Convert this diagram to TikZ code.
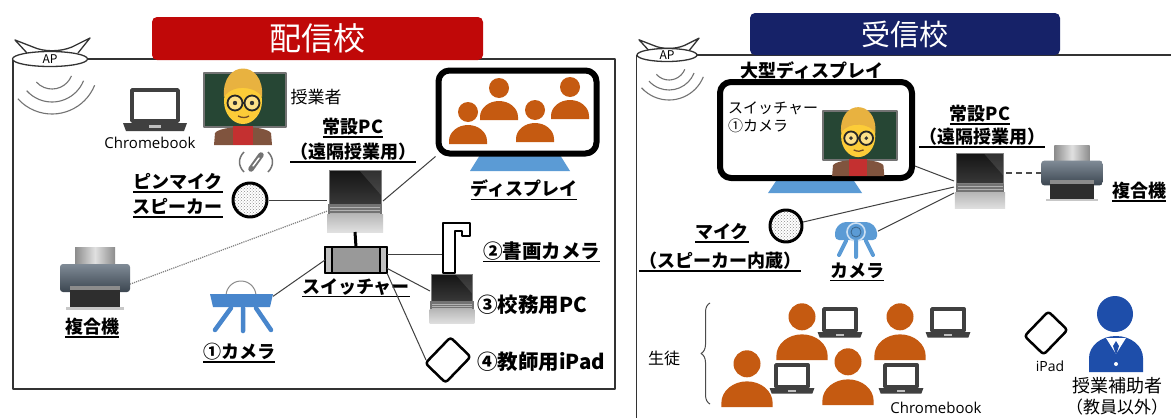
\documentclass[tikz,border=0pt]{standalone}
\usepackage{fontspec}
\newfontfamily\jp{Noto Sans CJK JP}
\newfontfamily\lat{Open Sans}
\usetikzlibrary{positioning,patterns,shapes.geometric,decorations.pathreplacing}

\definecolor{sendred}{RGB}{192,8,8}
\definecolor{recvnavy}{RGB}{22,34,104}
\definecolor{kidorange}{RGB}{197,90,17}
\definecolor{standblue}{RGB}{91,155,213}
\definecolor{camblue}{RGB}{72,134,204}
\definecolor{helperblue}{RGB}{30,78,170}
\definecolor{icongray}{RGB}{64,64,64}
\definecolor{printerbody}{RGB}{85,100,115}
\definecolor{boardgreen}{RGB}{38,70,52}
\definecolor{hairblond}{RGB}{232,178,64}
\definecolor{skin}{RGB}{252,204,56}
\definecolor{jacket}{RGB}{128,84,62}
\definecolor{shirtred}{RGB}{196,48,48}

% underline a little heavier than \underline
\newcommand\ulab[1]{\setbox0=\hbox{#1}\rlap{\rule[-4pt]{\wd0}{1.3pt}}\box0}

\tikzset{
  devbox/.style={inner sep=0, outer sep=0},
  lbl/.style={font=\jp\bfseries\fontsize{18}{20}\selectfont, inner sep=1},
  biglbl/.style={font=\jp\bfseries\fontsize{20.5}{22}\selectfont, inner sep=1},
  txt/.style={font=\jp\fontsize{17}{20}\selectfont, inner sep=1},
  lat/.style={font=\lat\fontsize{15}{17}\selectfont, inner sep=1},
  wire/.style={draw=black!75, line width=1},
  panel/.style={draw=black!80, line width=1.3},
  monitor/.style={draw, line width=6, rounded corners=11, inner sep=0},
  spk/.style={circle, draw, line width=3, pattern=crosshatch dots, pattern color=black!45, inner sep=0},
  titlebar/.style={rounded corners=5, text=white, inner sep=0},
  wave/.style={draw=black!55, line width=1.1},
  apnode/.style={ellipse, draw=black!80, line width=1.3, fill=white, inner sep=0,
    font=\jp\fontsize{12}{12}\selectfont},
  % notebook PC (photo style)
  notebook/.pic={
    \shade[top color=black!92, bottom color=black!78] (-26,-31) rectangle (26,3);
    \fill[white, opacity=0.12] (4,-31) -- (26,-31) -- (26,-6) -- cycle;
    \draw[black!50, line width=0.8] (-26,-31) rectangle (26,3);
    \fill[black!55] (-27,3) rectangle (27,13);
    \draw[black!30, line width=0.6] (-25,6) -- (25,6) (-25,9) -- (25,9) (-25,12) -- (25,12);
    \shade[top color=black!28, bottom color=black!12] (-28,13) rectangle (28,31);
  },
  % line icon of a Chromebook
  chromebook/.pic={
    \draw[icongray, line width=3.5] (-23,-20) rectangle (23,11);
    \fill[icongray] (-32,13) -- (32,13) -- (29,21) -- (-29,21) -- cycle;
    \fill[black!25] (-6,15) rectangle (6,18);
  },
  printer/.pic={
    \shade[left color=black!45, right color=black!45, middle color=black!12] (-20,-31) rectangle (20,-12);
    \shade[top color=printerbody!75!white, bottom color=printerbody!70!black, rounded corners=3] (-35,-14) rectangle (35,14);
    \fill[black!82] (-25,8) rectangle (25,30);
    \fill[black!45] (-25,8) rectangle (25,12);
    \fill[black!22] (-29,29) rectangle (29,32);
  },
  doccam/.pic={
    \draw[line width=1.5, fill=white] (-13,25) -- (-13,-25) -- (14,-25) -- (14,-12) -- (6,-12)
      -- (6,-17) -- (-1,-17) -- (-1,25) -- cycle;
  },
  tripodcam/.pic={
    \draw[black!45, line width=1] (-15,-12) arc[start angle=180, end angle=360, radius=15];
    \fill[camblue] (-31,-14) -- (32,-14) -- (29,-1) -- (-28,-1) -- cycle;
    \draw[camblue, line width=4.5, line cap=round] (-10,0) -- (-26,22) (2,0) -- (2,23) (15,0) -- (30,22);
  },
  domecam/.pic={
    \fill[standblue, rounded corners=4] (-21,3) -- (-21,-8) -- (-14,-15) -- (14,-15) -- (21,-8) -- (21,3) -- cycle;
    \draw[white!70!standblue, line width=1.6] (0,-5) circle (9);
    \draw[standblue!65!black, line width=0.8] (0,-5) circle (5);
    \draw[standblue, line width=4, line cap=round] (-10,4) -- (-17,18) (0,4) -- (0,20) (10,4) -- (17,18);
  },
  tablet/.pic={
    \draw[line width=2.5, rounded corners=3, fill=white, rotate=46] (-18,-14) rectangle (18,14);
  },
  pinmic/.pic={
    \draw[black!55, line width=1.5] (-12,-10) .. controls (-18,-4) and (-18,4) .. (-12,10)
      (12,-10) .. controls (18,-4) and (18,4) .. (12,10);
    \draw[black!55, line width=5.5, line cap=round] (-5,7) -- (5,-7);
    \draw[white, line width=1.4, line cap=round] (-3,4) -- (3,-4);
  },
  kid/.pic={
    \fill[kidorange] (0,-12) circle (10);
    \fill[kidorange] (-19,20) -- (-19,17) arc[start angle=180, end angle=360, x radius=19, y radius=16] -- (19,20) -- cycle;
  },
  assistant/.pic={
    \fill[helperblue] (-1,-20) circle (18);
    \fill[helperblue] (-27,38) -- (-27,24) arc[start angle=180, end angle=360, x radius=27, y radius=22] -- (27,38) -- cycle;
    \fill[white] (-10,4) -- (0,20) -- (10,4) -- cycle;
    \fill[helperblue] (0,7) -- (3,12) -- (0,21) -- (-3,12) -- cycle;
    \fill[white] (0,30) circle (2);
  },
  teacher/.pic={
    \fill[boardgreen] (-41,-32) rectangle (41,22);
    \draw[black!55, line width=1.5] (-41,-32) rectangle (41,22);
    \fill[jacket] (-31,40) -- (-30,28) .. controls (-24,20) and (20,20) .. (26,28) -- (27,40) -- cycle;
    \fill[shirtred] (-12,21) rectangle (8,40);
    \fill[skin] (-2,-4) ellipse [x radius=19, y radius=23];
    \fill[hairblond] (-21,-8) .. controls (-24,-46) and (20,-46) .. (17,-8) .. controls (12,-18) and (-12,-22) .. cycle;
    \draw[black!85, line width=1.8, fill=white!40!skin] (-10,-2) circle (7.5) (7,-2) circle (7.5);
    \draw[black!85, line width=1.8] (-2.5,-2) -- (-0.5,-2);
    \fill[black!80] (-10,-2) circle (2.2) (7,-2) circle (2.2);
    \draw[brown!60!black, line width=1.3] (-7,11) .. controls (-3,13) and (1,13) .. (4,11);
  },
}

\begin{document}
\begin{tikzpicture}[x=1pt, y=-1pt, line join=round]
\useasboundingbox (0,0) rectangle (1171,418);
\fill[white] (0,0) rectangle (1171,418);

%%%%%%%%%% 配信校 %%%%%%%%%%
\coordinate (apAc) at (50,59);
\draw[panel] (apAc) -- (615,59) -- (615,389) -- (13,389) -- (13,59);
\draw[panel, fill=white, shift={(apAc)}] (-23,-6) -- (-35,-19) -- (-17,-12) .. controls (-6,-7) and (10,-7) .. (22,-12) -- (40,-21) -- (28,-6);
\node[apnode, minimum width=75, minimum height=15] (apA) at (apAc) {AP};
\foreach \r in {21,34,46}
  \draw[wave] ([shift={(2,9)}]apA.center) ++(22:\r) arc[start angle=22, end angle=138, radius=\r];
\node[titlebar, fill=sendred, minimum width=331, minimum height=43,
  font=\jp\fontsize{32}{34}\selectfont] (titleA) at (317.5,38.5) {配信校};

% 授業者 と Chromebook
\node[devbox, minimum width=64, minimum height=44] (cbA) at (155,110) {};
\pic at (cbA) {chromebook};
\node[lat] (cbAtxt) at (150,143) {Chromebook};
\node[devbox, minimum width=83, minimum height=80] (tchA) at (245,105) {};
\pic at (tchA) {teacher};
\node[txt] (tchAtxt) at (316,97) {授業者};

% ディスプレイ
\fill[standblue] (480,155) -- (560,155) -- (570,171) -- (470,171) -- cycle;
\node[monitor, minimum width=158, minimum height=83] (dispA) at (517.5,112) {};
\foreach \px/\py in {468/124, 499/100, 535/122, 570/99}
  \pic at (\px,\py) {kid};
\node[lbl] (dispAtxt) at (524,190) {\ulab{ディスプレイ}};

% 常設PC
\node[devbox, minimum width=56, minimum height=62] (pcA) at (355,201) {};
\pic at (pcA) {notebook};
\node[lbl] (pcAname) at (353,128) {\ulab{常設PC}};
\node[lbl] (pcAuse) at (353,153) {\ulab{（遠隔授業用）}};

% ピンマイク・スピーカー
\node[devbox, minimum width=40, minimum height=22] (pinA) at (256,162) {};
\pic at (pinA) {pinmic};
\node[spk, minimum size=34] (spkA) at (250,200) {};
\node[lbl, anchor=east] (spkAtxt1) at (224,183) {\ulab{ピンマイク}};
\node[lbl, anchor=east] (spkAtxt2) at (224,208) {\ulab{スピーカー}};

% 複合機
\node[devbox, minimum width=70, minimum height=64] (prnA) at (95,278) {};
\pic at (prnA) {printer};
\node[lbl] (prnAtxt) at (92,328) {\ulab{複合機}};

% スイッチャー
\node[devbox, draw, line width=1.2, fill=black!40, minimum width=62, minimum height=26] (sw) at (356,260) {};
\draw[line width=1.2, fill=black!25] (sw.north west) rectangle ([xshift=7pt]sw.south west);
\draw[line width=1.2, fill=black!25] (sw.north east) rectangle ([xshift=-7pt]sw.south east);
\node[lbl] (swtxt) at (356,288) {\ulab{スイッチャー}};

% ①カメラ
\node[devbox, minimum width=64, minimum height=52] (camA) at (241,308) {};
\pic at (camA) {tripodcam};
\node[lbl] (camAtxt) at (239,353) {\ulab{①カメラ}};

% ②〜④
\node[devbox, minimum width=28, minimum height=51] (docA) at (456,248) {};
\pic at (docA) {doccam};
\node[biglbl, anchor=west, font=\jp\bfseries\fontsize{19.5}{21}\selectfont] (docAtxt) at (482,252) {\ulab{②書画カメラ}};
\node[devbox, minimum width=44, minimum height=44] (pcB) at (452,299) {};
\pic[scale=0.8] at (pcB) {notebook};
\node[biglbl, anchor=west] (pcBtxt) at (476,305) {③校務用PC};
\node[devbox, minimum width=44, minimum height=44] (padA) at (448,360) {};
\pic at (padA) {tablet};
\node[biglbl, anchor=west] (padAtxt) at (476,362) {④教師用iPad};

% 配線
\draw[wire] (spkA) -- (pcA.west |- spkA);
\draw[wire] (pcA.east) -- (dispA.south west);
\draw[black!50, line width=1.2, densely dotted] (pcA.200) -- (prnA.-10);
\draw[line width=3] (pcA.south) -- (sw.north);
\draw[wire] (sw.west) -- (camA.20);
\draw[wire] (sw.10) -- (sw.10 -| docA.west);
\draw[wire] (sw.-15) -- (pcB.160);
\draw[wire] (sw.south east) -- (padA.west);

%%%%%%%%%% 受信校 %%%%%%%%%%
\coordinate (apBc) at (667,55);
\draw[panel] (apBc) -- (1175,55);
\begin{scope}[shift={(apBc)}, scale=0.8]
  \draw[panel, fill=white] (-23,-6) -- (-35,-19) -- (-17,-12) .. controls (-6,-7) and (10,-7) .. (22,-12) -- (40,-21) -- (28,-6);
\end{scope}
\node[apnode, minimum width=60, minimum height=13] (apB) at (apBc) {AP};
\draw[panel] (apB.west) -- (apB.west |- 0,422);
\foreach \r in {17,27,37}
  \draw[wave] ([shift={(2,8)}]apB.center) ++(22:\r) arc[start angle=22, end angle=138, radius=\r];
\node[titlebar, fill=recvnavy, minimum width=310, minimum height=42,
  font=\jp\fontsize{29}{31}\selectfont] (titleB) at (905,34) {受信校};

% 大型ディスプレイ
\node[lbl] (dispBtxt) at (812,72) {\ulab{大型ディスプレイ}};
\fill[standblue] (778,178) -- (852,178) -- (862,193) -- (768,193) -- cycle;
\node[monitor, minimum width=192, minimum height=96] (dispB) at (816,130) {};
\pic[scale=0.9] at (860,140) {teacher};
\node[txt, font=\jp\fontsize{15}{18}\selectfont, align=left, anchor=west] (dispBcap) at (727,117) {スイッチャー\\①カメラ};

% 常設PC と 複合機
\node[devbox, minimum width=52, minimum height=52] (pcC) at (980,181) {};
\pic[scale=0.9] at (pcC) {notebook};
\node[lbl] (pcCname) at (980,115) {\ulab{常設PC}};
\node[lbl] (pcCuse) at (982,138) {\ulab{（遠隔授業用）}};
\node[devbox, minimum width=62, minimum height=58] (prnB) at (1072,173) {};
\pic[scale=0.88] at (prnB) {printer};
\node[lbl] (prnBtxt) at (1139,192) {\ulab{複合機}};

% マイク・カメラ
\node[spk, minimum size=32] (spkB) at (786,226) {};
\node[lbl] (spkBtxt1) at (722,233) {\ulab{マイク}};
\node[lbl] (spkBtxt2) at (720,262) {\ulab{（スピーカー内蔵）}};
\node[devbox, minimum width=44, minimum height=36] (camB) at (856,237) {};
\pic at (camB) {domecam};
\node[lbl] (camBtxt) at (857,272) {\ulab{カメラ}};

% 配線
\draw[wire] (dispB.-20) -- (pcC.west);
\draw[wire] (spkB) -- ([yshift=-6pt]pcC.west);
\draw[wire] (camB.15) -- ([yshift=-12pt]pcC.west);
\draw[black!70, line width=1.5, dash pattern=on 6pt off 4pt] (prnB.west -| pcC.east) -- (prnB.west);

% 生徒
\node[txt, font=\jp\fontsize{16}{18}\selectfont] (kidtxt) at (664,358) {生徒};
\draw[black!70, line width=1, decorate, decoration={brace, amplitude=9}] (710,404) -- (710,303);
\foreach \px/\py in {802/333, 900/333, 747/380, 848/378}
  \pic[scale=1.35] at (\px,\py) {kid};
\foreach \px/\py in {840/323, 948/323, 792/379, 901/379}
  \pic[scale=0.7] at (\px,\py) {chromebook};
\node[lat] (cbBtxt) at (936,408) {Chromebook};

% 授業補助者
\node[devbox, minimum width=44, minimum height=44] (padB) at (1046,333) {};
\pic[scale=0.95] at (padB) {tablet};
\node[lat, font=\lat\fontsize{14}{16}\selectfont] (padBtxt) at (1050,366) {iPad};
\node[devbox, minimum width=54, minimum height=76] (helper) at (1116,334) {};
\pic at (helper) {assistant};
\node[txt, font=\jp\fontsize{18}{20}\selectfont] (helpertxt1) at (1117,386) {授業補助者};
\node[txt] (helpertxt2) at (1117,407) {（教員以外）};
\end{tikzpicture}
\end{document}
